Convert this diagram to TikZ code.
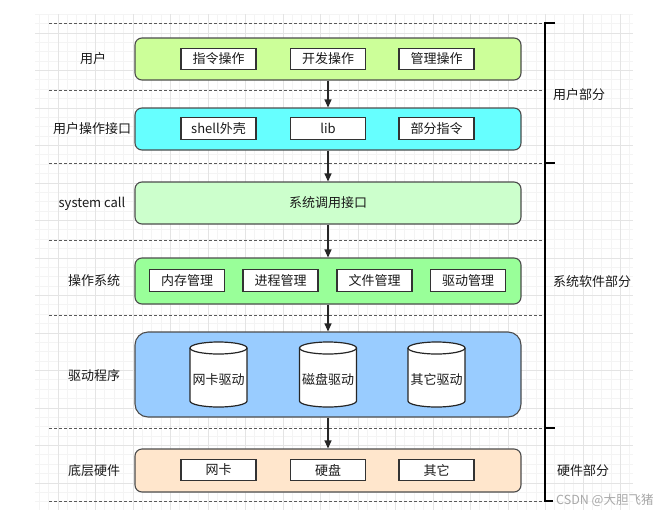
\documentclass[tikz,border=0pt]{standalone}
\usepackage{fontspec}
\setmainfont{Noto Sans CJK SC}
\usetikzlibrary{arrows.meta}
\definecolor{gridminor}{HTML}{F4F4F4}
\definecolor{gridmajor}{HTML}{E4E4E4}
\definecolor{cUser}{HTML}{CCFF99}
\definecolor{cIface}{HTML}{66FFFF}
\definecolor{cSys}{HTML}{CCFFCC}
\definecolor{cOS}{HTML}{99FF99}
\definecolor{cDrv}{HTML}{99CCFF}
\definecolor{cHw}{HTML}{FFE6CC}
\definecolor{txt}{HTML}{1A1A1A}
\definecolor{wm}{HTML}{A8A8A8}
\newcommand\fs{\fontsize{13pt}{15pt}\selectfont}
\newcommand\drawcyl[4]{%
  \filldraw[cylstyle] ({#2-28.5},{#3-26.5}) -- ({#2-28.5},{#3+26.5})
    arc[start angle=180,end angle=0,x radius=28.5,y radius=6]
    -- ({#2+28.5},{#3-26.5})
    arc[start angle=0,end angle=-180,x radius=28.5,y radius=6] -- cycle;
  \draw[cylstyle] ({#2-28.5},{#3-26.5}) arc[start angle=180,end angle=0,x radius=28.5,y radius=6];
  \node[lbl] (#1) at (#2,{#3+5}) {#4};
}
\begin{document}
\begin{tikzpicture}[x=1pt,y=-1pt,
  lbl/.style={font=\fs, text=txt, inner sep=0pt},
  layer/.style={draw=black!70, line width=1.1pt, minimum width=386pt, inner sep=0pt, font=\fs, text=txt},
  item/.style={draw=black!80, line width=1.3pt, fill=white, minimum width=75pt, minimum height=21.5pt, inner sep=0pt, font=\fs, text=txt},
  sep/.style={draw=black!65, dash pattern=on 3pt off 2pt, line width=1pt},
  flow/.style={draw=black!85, line width=1.1pt, -{Triangle[width=7pt,length=8pt]}},
  bracketline/.style={draw=black, line width=2pt},
  cylstyle/.style={draw=black!85, line width=1.2pt, fill=white},
  minorgrid/.style={draw=gridminor, line width=0.8pt},
  majorgrid/.style={draw=gridmajor, line width=0.8pt},
]
\useasboundingbox (0,0) rectangle (660,514);
\fill[white] (0,0) rectangle (660,514);
% grid
\foreach \i in {-2,...,61} \draw[minorgrid] ({58+9.375*\i},14) -- ({58+9.375*\i},510);
\foreach \i in {-2,...,50} \draw[minorgrid] (35,{33+9.375*\i}) -- (633,{33+9.375*\i});
\foreach \i in {0,...,15} \draw[majorgrid] ({58+37.5*\i},14) -- ({58+37.5*\i},510);
\foreach \i in {0,...,12} \draw[majorgrid] (35,{33+37.5*\i}) -- (633,{33+37.5*\i});

% separators
\foreach \y/\n in {23/s0,90/s1,163/s2,240/s3,315/s4,428/s5,501/s6} {
  \coordinate (\n a) at (49,\y);
  \coordinate (\n b) at (545,\y);
  \draw[sep] (\n a) -- (\n b);
}

% layers
\node[layer, fill=cUser, minimum height=42pt, rounded corners=7pt] (L1) at (328,59) {};
\node[layer, fill=cIface, minimum height=42pt, rounded corners=7pt] (L2) at (328,129) {};
\node[layer, fill=cSys, minimum height=42pt, rounded corners=7pt] (L3) at (328,203) {系统调用接口};
\node[layer, fill=cOS, minimum height=46pt, rounded corners=7pt] (L4) at (328,281) {};
\node[layer, fill=cDrv, minimum height=85pt, rounded corners=13pt] (L5) at (328,374.5) {};
\node[layer, fill=cHw, minimum height=43pt, rounded corners=7pt] (L6) at (328,470.5) {};

% items
\node[item] (u1) at (218.5,59) {指令操作};
\node[item] (u2) at (328,59) {开发操作};
\node[item] (u3) at (436.5,59) {管理操作};
\node[item] (i1) at (218.5,128.5) {shell外壳};
\node[item] (i2) at (328,128.5) {lib};
\node[item] (i3) at (436.5,128.5) {部分指令};
\node[item] (o1) at (187,280.5) {内存管理};
\node[item] (o2) at (280.5,280.5) {进程管理};
\node[item] (o3) at (374.5,280.5) {文件管理};
\node[item] (o4) at (468,280.5) {驱动管理};
\node[item] (h1) at (218.5,470) {网卡};
\node[item] (h2) at (328,470) {硬盘};
\node[item] (h3) at (436.5,470) {其它};

% cylinders
\drawcyl{d1}{218.5}{374.5}{网卡驱动}
\drawcyl{d2}{328}{374.5}{磁盘驱动}
\drawcyl{d3}{436.5}{374.5}{其它驱动}

% arrows
\draw[flow] (L1.south) -- (L2.north);
\draw[flow] (L2.south) -- (L3.north);
\draw[flow] (L3.south) -- (L4.north);
\draw[flow] (L4.south) -- (L5.north);
\draw[flow] (L5.south) -- (L6.north);

% left labels
\node[lbl] (t1) at (93,59) {用户};
\node[lbl] (t2) at (92,129) {用户操作接口};
\node[lbl] (t3) at (92,204) {system call};
\node[lbl] (t4) at (94,281) {操作系统};
\node[lbl] (t5) at (94,376) {驱动程序};
\node[lbl] (t6) at (94,471) {底层硬件};

% bracket
\coordinate (k0) at (545,23);
\coordinate (k1) at (545,163);
\coordinate (k2) at (545,428);
\coordinate (k3) at (545,501);
\draw[bracketline] ([xshift=10pt]k0) -- (k0) -- (k3) -- ([xshift=8pt]k3);
\draw[bracketline] (k1) -- ([xshift=10pt]k1);
\draw[bracketline] (k2) -- ([xshift=10pt]k2);

% right labels
\node[lbl, anchor=west] (r1) at (553,95) {用户部分};
\node[lbl, anchor=west] (r2) at (553,282) {系统软件部分};
\node[lbl, anchor=west] (r3) at (557,471) {硬件部分};

% watermark
\node[font=\fontsize{12.5pt}{14pt}\selectfont, text=wm, anchor=west, inner sep=0pt] (wmk) at (556,500) {CSDN @大胆飞猪};
\end{tikzpicture}
\end{document}
